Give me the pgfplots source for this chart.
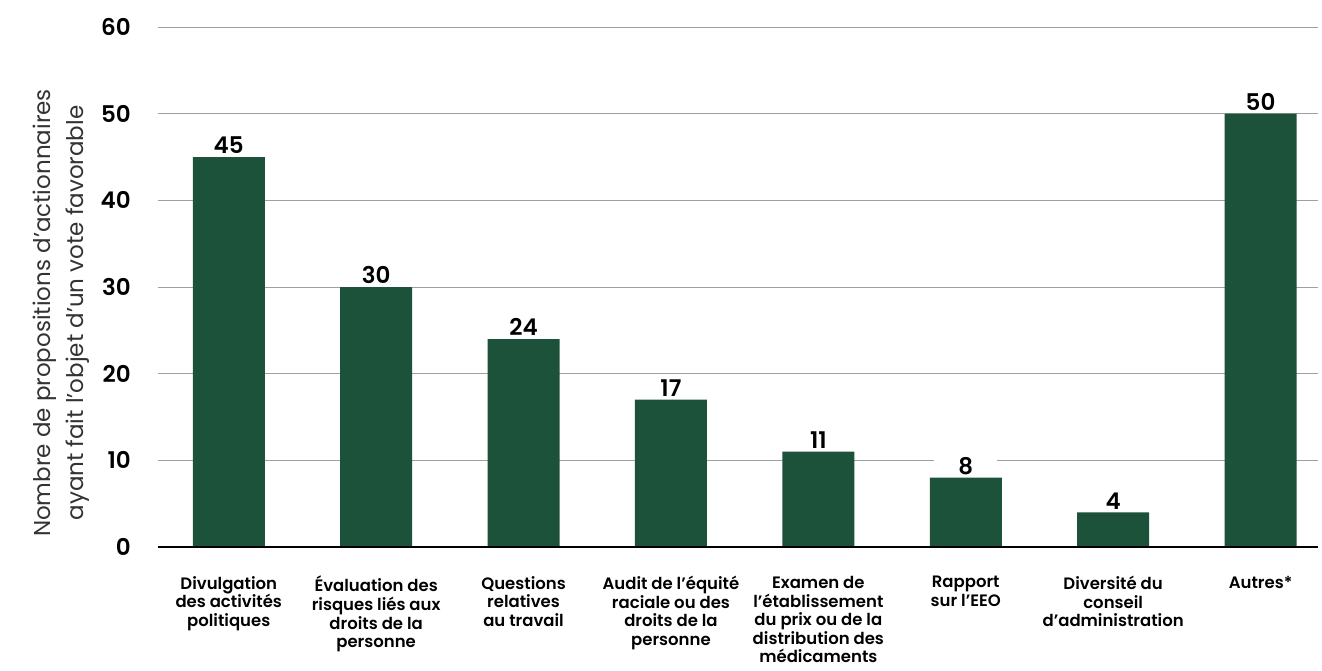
\documentclass[border=0pt]{standalone}
\usepackage{fontspec}
\setmainfont{Poppins}[BoldFont={Poppins SemiBold}]
\usepackage{pgfplots}
\pgfplotsset{compat=1.18}
\definecolor{barc}{HTML}{1C5239}
\definecolor{gridc}{HTML}{A0A0A0}
\begin{document}
\begin{tikzpicture}
\begin{axis}[
  at={(0pt,0pt)}, anchor=south west,
  scale only axis, width=1160pt, height=520pt,
  xmin=-0.48, xmax=7.39, ymin=0, ymax=60,
  ytick={0,10,...,60},
  xtick={0,...,7},
  xticklabels={{Divulgation\\des activités\\politiques},
    {Évaluation des\\risques liés aux\\droits de la\\personne},
    {Questions\\relatives\\au travail},
    {Audit de l’équité\\raciale ou des\\droits de la\\personne},
    {Examen de\\l’établissement\\du prix ou de la\\distribution des\\médicaments},
    {Rapport\\sur l’EEO},
    {Diversité du\\conseil\\d’administration},
    {Autres*}},
  /pgf/number format/assume math mode=true,
  ymajorgrids, grid style={gridc, line width=1pt},
  axis line style={draw=none},
  major tick length=0pt,
  xticklabel style={font=\bfseries\fontsize{16.5}{18.6}\selectfont, align=center, anchor=north, inner sep=0pt, yshift=-29pt},
  yticklabel style={font=\bfseries\fontsize{23}{23}\selectfont, anchor=east, inner sep=0pt, xshift=-27pt},
  nodes near coords,
  nodes near coords style={font=\bfseries\fontsize{23}{23}\selectfont, fill=white, minimum width=63pt, inner sep=3pt, anchor=south, text=black},
]
\addplot[ybar, bar width=72pt, fill=barc, draw=none] coordinates {
  (0,45) (1,30) (2,24) (3,17) (4,11) (5,8) (6,4) (7,50)};
\draw[black, line width=2.5pt] (axis cs:-0.48,0) -- (axis cs:7.39,0);
\end{axis}
\node[rotate=90, align=center, font=\fontsize{23}{33}\selectfont, text=black!80] at (-97pt,234pt)
  {Nombre de propositions d’actionnaires\\ayant fait l’objet d’un vote favorable};
\pgfresetboundingbox
\path[use as bounding box] (-158pt,-123pt) rectangle (1164pt,547pt);
\end{tikzpicture}
\end{document}
